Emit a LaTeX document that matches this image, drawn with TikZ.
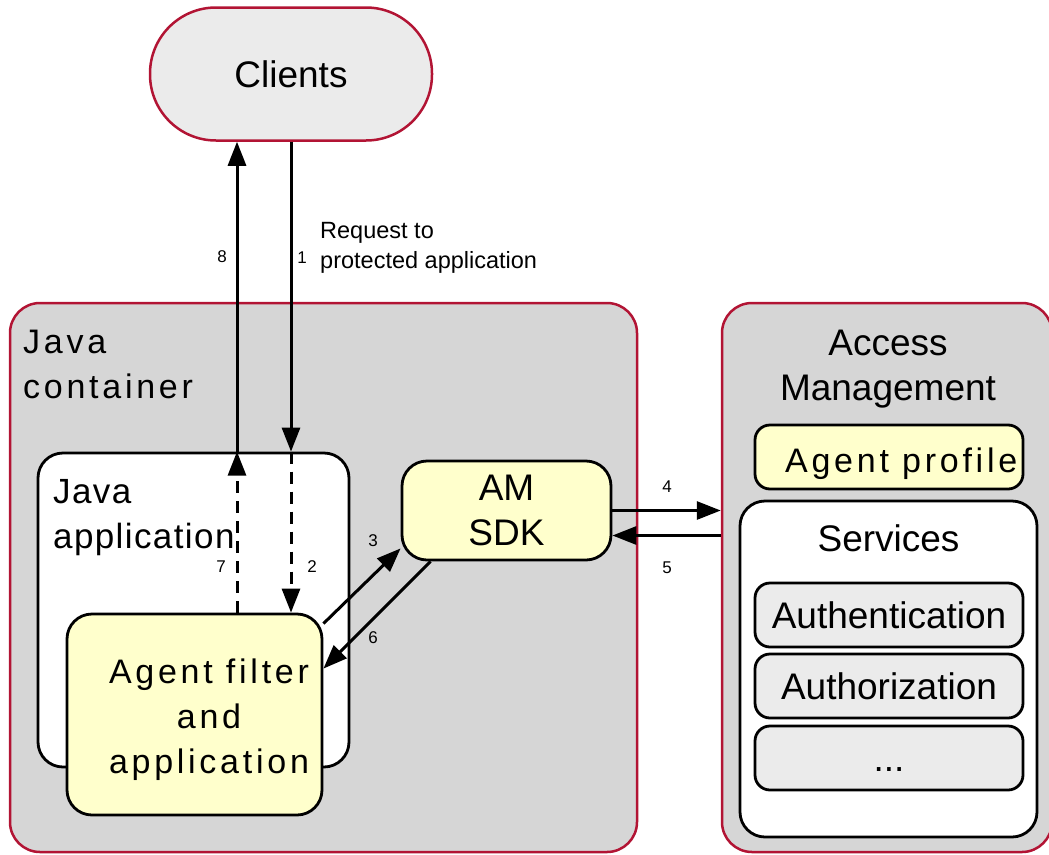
\documentclass[tikz,border=0pt]{standalone}
\usepackage{fontspec}
\setmainfont{Liberation Sans}
\usetikzlibrary{arrows.meta}

\definecolor{amred}{RGB}{178,20,52}
\definecolor{boxgrey}{RGB}{214,214,214}
\definecolor{lightgrey}{RGB}{235,235,235}
\definecolor{noteyellow}{RGB}{255,255,204}

\newcommand{\bigtext}{\fontsize{37}{45}\selectfont}
\newcommand{\widetext}{\fontsize{34}{45}\selectfont\addfontfeature{LetterSpace=11}}
\newcommand{\apptext}{\fontsize{35}{45}\selectfont\addfontfeature{LetterSpace=4}}
\newcommand{\smalltext}{\fontsize{23.5}{30}\selectfont}
\newcommand{\steptext}{\fontsize{17}{20}\selectfont}

\begin{document}
\begin{tikzpicture}[x=1pt,y=-1pt,>={Triangle[length=24pt,width=18pt]},line join=round,
  clientbox/.style={draw=amred,fill=lightgrey,line width=2.5pt,rounded corners=66pt,minimum width=282pt,minimum height=133pt,font=\bigtext},
  outerbox/.style={draw=amred,fill=boxgrey,line width=2.5pt,rounded corners=30pt,inner sep=0pt},
  whitebox/.style={draw=black,fill=white,line width=2.8pt,rounded corners=25pt,inner sep=0pt},
  notebox/.style={draw=black,fill=noteyellow,line width=2.8pt,rounded corners=25pt,inner sep=0pt},
  servbox/.style={draw=black,fill=lightgrey,line width=2.8pt,rounded corners=15pt,minimum width=268pt,minimum height=64pt,inner sep=0pt,text height=27pt,text depth=0pt,font=\bigtext},
  flowline/.style={black,line width=3pt,->},
  dashflow/.style={flowline,dash pattern=on 12pt off 8pt},
  steplabel/.style={font=\steptext,inner sep=0pt},
]
%%
\useasboundingbox (0,0) rectangle (1049,854);
\clip (0,0) rectangle (1049,854);
% boxes
\node (node_clients) at (291,74) [clientbox] {Clients};
\node (node_container) at (323.5,577.5) [outerbox,minimum width=627pt,minimum height=549pt] {};
\node (node_container_txt) at (23,398) [anchor=base west,align=left,inner sep=0pt,font=\widetext] {Java\\container};
\node (node_am) at (887,577.5) [outerbox,minimum width=330pt,minimum height=549pt] {};
\node (node_am_txt) at (888,400) [anchor=base,align=center,inner sep=0pt,font=\bigtext] {Access\\Management};
\node (node_app) at (193.5,610) [whitebox,minimum width=311pt,minimum height=314pt] {};
\node (node_app_txt) at (53,548) [anchor=base west,align=left,inner sep=0pt,font=\apptext] {Java\\application};
\node (node_agent) at (194.5,714.5) [notebox,minimum width=255pt,minimum height=201pt] {};
\node (node_agent_txt) at (209,773) [anchor=base,align=center,inner sep=0pt,font=\widetext] {Agent filter\\and\\application};
\node (node_sdk) at (506.5,510.5) [notebox,minimum width=209pt,minimum height=99pt,align=center,font=\bigtext] {AM\\SDK};
\node (node_profile) at (889,457) [notebox,rounded corners=15pt,minimum width=268pt,minimum height=64pt] {};
\node (node_profile_txt) at (785,472) [anchor=base west,inner sep=0pt,font=\widetext] {Agent profile};
\node (node_services) at (888.5,669) [whitebox,minimum width=297pt,minimum height=336pt] {};
\node (node_services_txt) at (888.5,538) [font=\bigtext] {Services};
\node (node_authn) at (889,615) [servbox] {Authentication};
\node (node_authz) at (889,686) [servbox] {Authorization};
\node (node_more) at (889,758) [servbox] {...};
% connectors
\coordinate (node_up) at ([xshift=-54pt]node_clients.south);
\coordinate (node_am_in) at (node_sdk.east -| node_am.west);
\draw [flowline] (node_clients.south) -- (node_clients.south |- node_app.north);
\draw [dashflow] (node_clients.south |- node_app.north) -- (node_clients.south |- node_agent.north);
\draw [dashflow] (node_up |- node_agent.north) -- (node_up |- node_app.north);
\draw [flowline] (node_up |- node_app.north) -- (node_up);
\draw [flowline] ([yshift=-11pt]node_agent.north east) -- ([yshift=13pt]node_sdk.south west);
\draw [flowline] ([xshift=30pt]node_sdk.south west) -- ([yshift=-56pt]node_agent.north east);
\draw [flowline] (node_sdk.east) -- (node_am_in);
\draw [flowline] ([yshift=-25pt]node_am_in) -- ([yshift=-25pt]node_sdk.east);
% labels
\node (node_req) at (320,268) [anchor=base west,align=left,inner sep=0pt,font=\smalltext] {Request to\\protected application};
\node (node_l1) at (302,258) [steplabel] {1};
\node (node_l2) at (312,567) [steplabel] {2};
\node (node_l3) at (373,541) [steplabel] {3};
\node (node_l4) at (667,487) [steplabel] {4};
\node (node_l5) at (667,568) [steplabel] {5};
\node (node_l6) at (373,638) [steplabel] {6};
\node (node_l7) at (221,567) [steplabel] {7};
\node (node_l8) at (222,257) [steplabel] {8};
%
\end{tikzpicture}
\end{document}
